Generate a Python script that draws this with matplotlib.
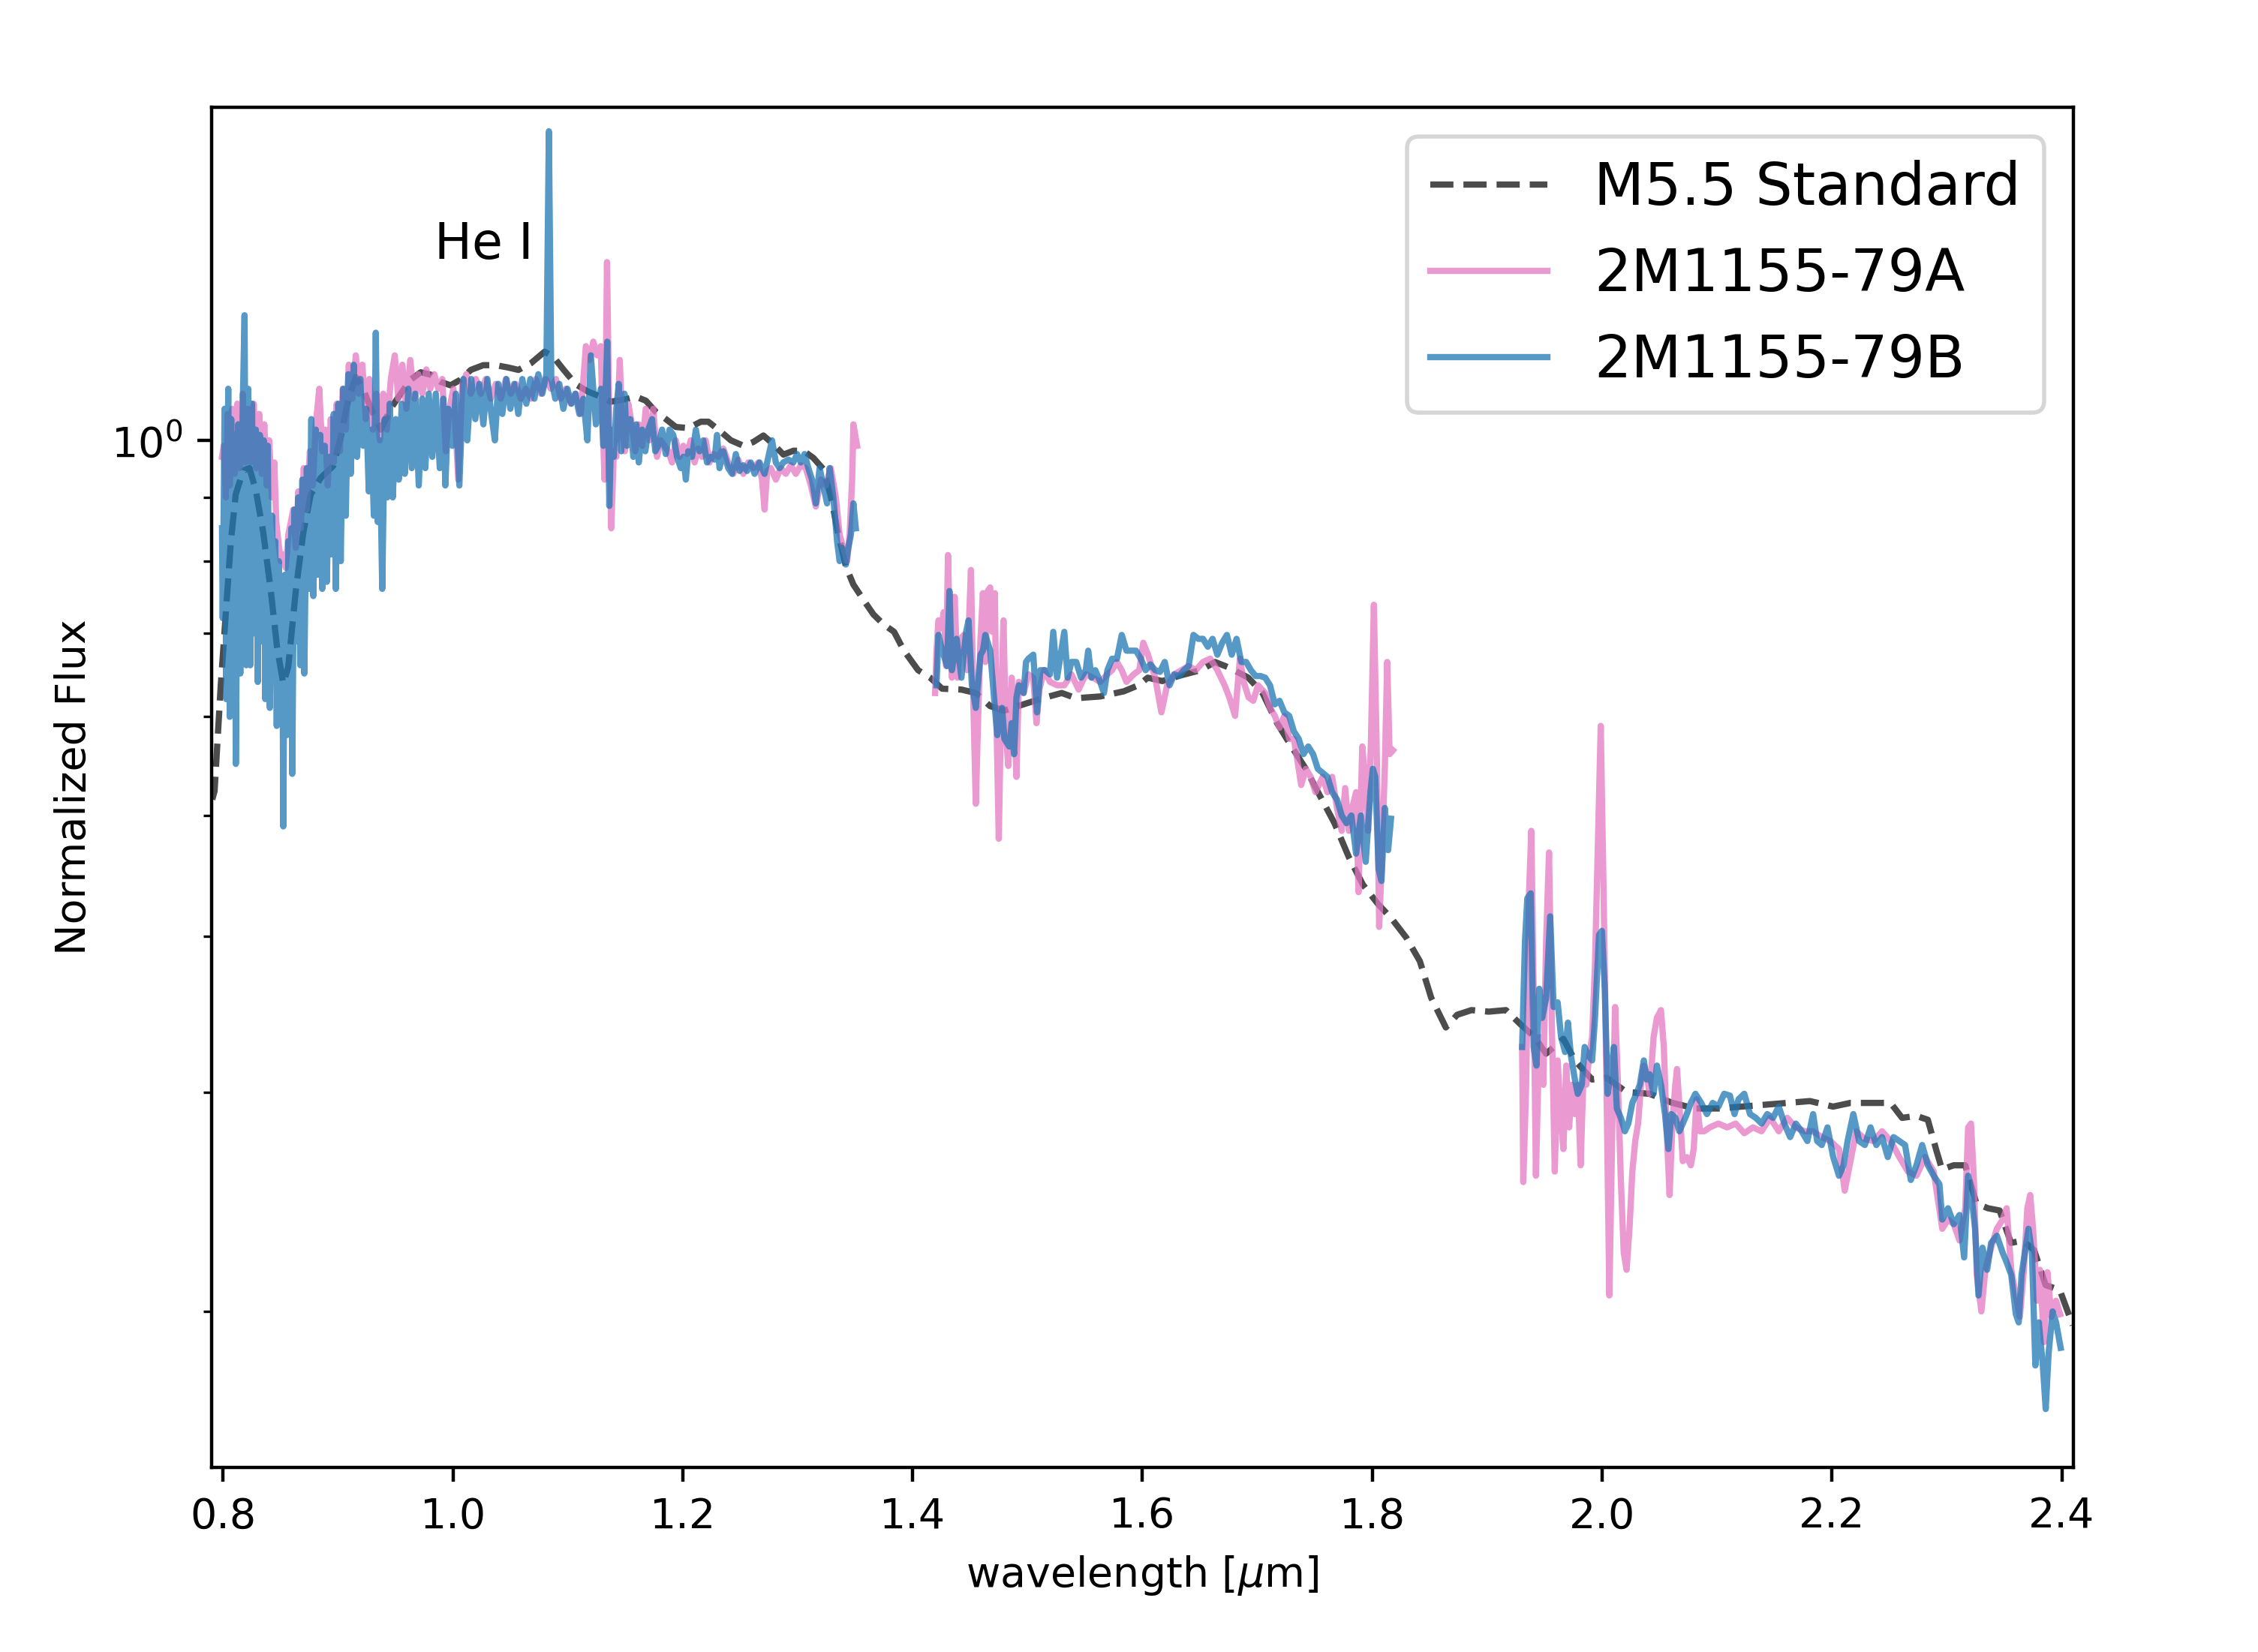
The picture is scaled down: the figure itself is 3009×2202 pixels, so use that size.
import matplotlib
matplotlib.use('Agg')
import matplotlib.pyplot as plt

# M5.5 standard template
std_wave = [0.7906, 0.7926, 0.798, 0.8023, 0.8067, 0.811, 0.8176, 0.823, 0.8285, 0.835,
            0.8415, 0.847, 0.8524, 0.8567, 0.8633, 0.8698, 0.8763, 0.885, 0.8959, 0.9024,
            0.909, 0.9155, 0.922, 0.9285, 0.9373, 0.946, 0.9546, 0.9634, 0.972, 0.9807,
            0.9895, 0.998, 1.0069, 1.0156, 1.0264, 1.0373, 1.0482, 1.057, 1.0678, 1.0798,
            1.0874, 1.0961, 1.107, 1.1178, 1.1287, 1.1374, 1.1505, 1.1592, 1.1679, 1.1766,
            1.1853, 1.194, 1.2049, 1.2157, 1.2223, 1.2332, 1.2419, 1.2528, 1.2614, 1.2702,
            1.2788, 1.2876, 1.2963, 1.305, 1.3137, 1.3224, 1.3289, 1.3354, 1.342, 1.3485,
            1.3593, 1.3659, 1.3746, 1.3839, 1.3925, 1.4048, 1.4153, 1.4257, 1.4424, 1.455,
            1.4675, 1.4799, 1.4965, 1.5132, 1.5298, 1.5423, 1.5632, 1.5839, 1.5965, 1.6046,
            1.6173, 1.634, 1.6506, 1.6631, 1.6756, 1.6921, 1.7045, 1.7172, 1.7297, 1.7422,
            1.7547, 1.7671, 1.7796, 1.7919, 1.8046, 1.8171, 1.8296, 1.8414, 1.8513, 1.864,
            1.8739, 1.8864, 1.9014, 1.9163, 1.9289, 1.9413, 1.9512, 1.9663, 1.9763, 1.9913,
            2.0038, 2.0212, 2.0413, 2.0612, 2.0811, 2.1012, 2.1212, 2.1411, 2.1611, 2.1809,
            2.201, 2.216, 2.231, 2.251, 2.261, 2.2735, 2.2834, 2.291, 2.2958, 2.3059,
            2.316, 2.3258, 2.3359, 2.3459, 2.3558, 2.3659, 2.3759, 2.3859, 2.3983, 2.4095]
std_flux = [0.515, 0.523, 0.636, 0.725, 0.828, 0.905, 0.946, 0.95, 0.912, 0.843,
            0.758, 0.682, 0.638, 0.658, 0.758, 0.843, 0.905, 0.933, 0.954, 1.006,
            1.08, 1.124, 1.099, 1.061, 1.02, 1.061, 1.09, 1.119, 1.134, 1.129,
            1.114, 1.107, 1.119, 1.139, 1.149, 1.149, 1.144, 1.139, 1.153, 1.178,
            1.167, 1.14, 1.109, 1.094, 1.084, 1.074, 1.079, 1.084, 1.076, 1.054,
            1.04, 1.025, 1.023, 1.035, 1.035, 1.016, 1.0, 0.99, 0.997, 1.009,
            0.993, 0.974, 0.981, 0.981, 0.968, 0.948, 0.901, 0.841, 0.792, 0.766,
            0.74, 0.725, 0.712, 0.702, 0.678, 0.654, 0.645, 0.632, 0.631, 0.627,
            0.612, 0.607, 0.614, 0.621, 0.627, 0.621, 0.623, 0.629, 0.636, 0.645,
            0.641, 0.648, 0.654, 0.664, 0.657, 0.645, 0.627, 0.593, 0.568, 0.545,
            0.518, 0.493, 0.463, 0.44, 0.425, 0.413, 0.399, 0.382, 0.357, 0.338,
            0.346, 0.349, 0.348, 0.349, 0.34, 0.332, 0.322, 0.331, 0.318, 0.307,
            0.308, 0.3, 0.299, 0.294, 0.291, 0.291, 0.292, 0.293, 0.294, 0.295,
            0.292, 0.294, 0.294, 0.294, 0.286, 0.287, 0.285, 0.269, 0.26, 0.262,
            0.262, 0.244, 0.242, 0.241, 0.227, 0.228, 0.224, 0.21, 0.208, 0.195]

# 2M1155-79A, three bands
a_wave_yj = [0.7991, 0.8006, 0.8024, 0.8041, 0.8058, 0.808, 0.8102, 0.8124, 0.8145, 0.8171,
             0.8193, 0.8219, 0.8241, 0.8267, 0.8289, 0.8315, 0.8337, 0.8359, 0.838, 0.8402,
             0.8424, 0.8446, 0.8463, 0.8481, 0.8502, 0.8524, 0.8546, 0.8568, 0.859, 0.8611,
             0.8633, 0.8655, 0.8676, 0.8702, 0.8729, 0.8755, 0.8781, 0.8807, 0.8837, 0.8863,
             0.8889, 0.8911, 0.8937, 0.8963, 0.8989, 0.9016, 0.9042, 0.9068, 0.9094, 0.9125,
             0.9155, 0.9181, 0.9212, 0.9242, 0.9273, 0.9303, 0.9333, 0.9364, 0.9394, 0.9425,
             0.946, 0.9494, 0.9525, 0.956, 0.9595, 0.9629, 0.9664, 0.9699, 0.9734, 0.9769,
             0.9803, 0.9838, 0.9873, 0.9908, 0.9938, 0.9969, 1.0004, 1.0047, 1.0082, 1.0117,
             1.0156, 1.02, 1.0243, 1.0286, 1.033, 1.0374, 1.0417, 1.0461, 1.0504, 1.0547,
             1.0591, 1.0635, 1.0678, 1.0722, 1.0765, 1.0809, 1.0852, 1.0896, 1.0939, 1.0983,
             1.1026, 1.107, 1.1113, 1.1157, 1.119, 1.1222, 1.1255, 1.1287, 1.13, 1.132,
             1.1341, 1.1363, 1.1378, 1.14, 1.1422, 1.1452, 1.1474, 1.1496, 1.1526, 1.1557,
             1.1587, 1.1617, 1.1648, 1.1678, 1.1711, 1.1744, 1.1776, 1.1809, 1.1842, 1.1874,
             1.1907, 1.194, 1.1972, 1.2005, 1.2037, 1.207, 1.2103, 1.2135, 1.2168, 1.22,
             1.2233, 1.2266, 1.2309, 1.2353, 1.2396, 1.244, 1.2483, 1.2527, 1.257, 1.2614,
             1.2658, 1.269, 1.2712, 1.2734, 1.2766, 1.281, 1.2853, 1.2897, 1.294, 1.2984,
             1.3027, 1.3071, 1.3115, 1.3158, 1.3202, 1.3245, 1.3288, 1.3332, 1.3365, 1.3397,
             1.343, 1.3452, 1.3474, 1.3485, 1.3517]
a_flux_yj = [0.97, 0.99, 0.9, 1.05, 0.92, 1.06, 0.94, 1.07, 0.95, 1.09,
             0.96, 1.06, 0.96, 1.07, 0.95, 1.05, 0.94, 1.03, 0.92, 1.0,
             0.9, 0.96, 0.86, 0.83, 0.8, 0.81, 0.79, 0.84, 0.86, 0.88,
             0.82, 0.91, 0.85, 0.95, 0.88, 0.98, 0.92, 1.03, 1.1, 0.98,
             1.02, 0.92, 1.04, 0.96, 1.07, 0.98, 1.1, 1.02, 1.15, 1.08,
             1.17, 1.09, 1.15, 1.04, 1.12, 1.02, 1.09, 1.0, 1.09, 1.02,
             1.12, 1.17, 1.08, 1.15, 1.06, 1.16, 1.08, 1.13, 1.09, 1.14,
             1.1, 1.13, 1.1, 1.12, 0.98, 1.06, 1.1, 0.93, 1.11, 1.13,
             1.09, 1.12, 1.09, 1.12, 1.08, 1.11, 1.08, 1.12, 1.09, 1.11,
             1.08, 1.1, 1.08, 1.12, 1.09, 1.12, 1.1, 1.12, 1.08, 1.1,
             1.07, 1.09, 1.05, 1.19, 1.16, 1.2, 1.17, 1.19, 1.05, 0.93,
             1.39, 1.0, 0.85, 0.98, 0.97, 1.16, 1.02, 0.98, 1.07, 1.03,
             0.98, 1.03, 0.99, 1.06, 1.0, 1.06, 0.97, 1.0, 0.99, 0.98,
             0.96, 1.0, 0.97, 0.99, 0.975, 1.0, 0.96, 0.985, 0.97, 1.0,
             0.96, 0.975, 0.97, 0.985, 0.96, 0.94, 0.965, 0.94, 0.96, 0.95,
             0.96, 0.93, 0.88, 0.945, 0.95, 0.93, 0.95, 0.94, 0.955, 0.94,
             0.955, 0.95, 0.92, 0.885, 0.93, 0.92, 0.95, 0.9, 0.84, 0.82,
             0.8, 0.84, 0.93, 1.03, 0.99]

a_wave_h = [1.4196, 1.4208, 1.4225, 1.425, 1.4271, 1.4292, 1.4308, 1.4325, 1.4342, 1.4366,
            1.4391, 1.4416, 1.4446, 1.4475, 1.4508, 1.4529, 1.455, 1.4571, 1.4591, 1.4612,
            1.4633, 1.4654, 1.4675, 1.4695, 1.4716, 1.4729, 1.475, 1.4771, 1.4791, 1.4812,
            1.4833, 1.4862, 1.4883, 1.4904, 1.4924, 1.4966, 1.5008, 1.505, 1.5078, 1.5103,
            1.5145, 1.5195, 1.5257, 1.532, 1.5382, 1.5445, 1.5507, 1.557, 1.5632, 1.5695,
            1.5736, 1.5778, 1.582, 1.5861, 1.5924, 1.5973, 1.6007, 1.6048, 1.6111, 1.6165,
            1.6215, 1.6277, 1.634, 1.6402, 1.6465, 1.6527, 1.659, 1.6652, 1.6715, 1.6756,
            1.6806, 1.6848, 1.6881, 1.6923, 1.6964, 1.7006, 1.7068, 1.711, 1.7152, 1.7193,
            1.7235, 1.7277, 1.7318, 1.736, 1.7381, 1.7422, 1.7464, 1.7506, 1.7568, 1.761,
            1.7651, 1.7693, 1.7734, 1.7764, 1.7797, 1.7826, 1.7859, 1.788, 1.7913, 1.7943,
            1.7964, 1.7989, 1.8014, 1.8039, 1.806, 1.808, 1.8109, 1.813, 1.8151, 1.818]
a_flux_h = [0.627, 0.678, 0.717, 0.707, 0.728, 0.659, 0.809, 0.693, 0.645, 0.749,
            0.645, 0.693, 0.698, 0.654, 0.787, 0.614, 0.511, 0.601, 0.693, 0.754,
            0.664, 0.757, 0.762, 0.702, 0.754, 0.601, 0.479, 0.618, 0.717, 0.58,
            0.548, 0.645, 0.601, 0.537, 0.64, 0.627, 0.649, 0.645, 0.593, 0.631,
            0.654, 0.64, 0.636, 0.636, 0.649, 0.631, 0.649, 0.645, 0.64, 0.649,
            0.654, 0.664, 0.654, 0.64, 0.649, 0.654, 0.688, 0.673, 0.645, 0.605,
            0.636, 0.649, 0.654, 0.659, 0.654, 0.664, 0.668, 0.654, 0.636, 0.622,
            0.601, 0.668, 0.64, 0.622, 0.618, 0.636, 0.627, 0.61, 0.601, 0.588,
            0.601, 0.576, 0.576, 0.545, 0.529, 0.545, 0.537, 0.522, 0.537, 0.522,
            0.537, 0.507, 0.486, 0.526, 0.486, 0.507, 0.522, 0.434, 0.568, 0.529,
            0.486, 0.576, 0.738, 0.56, 0.407, 0.453, 0.545, 0.664, 0.56, 0.564]

a_wave_k = [1.9304, 1.9314, 1.9339, 1.9364, 1.9384, 1.9404, 1.9424, 1.9453, 1.9488, 1.9513,
            1.9538, 1.9563, 1.9588, 1.9613, 1.9638, 1.9663, 1.9688, 1.9713, 1.9738, 1.9763,
            1.9788, 1.9813, 1.9838, 1.9863, 1.9888, 1.9913, 1.9938, 1.9963, 1.9988, 2.0013,
            2.0038, 2.0063, 2.0088, 2.0113, 2.0138, 2.0163, 2.0188, 2.0213, 2.0238, 2.0263,
            2.0288, 2.0313, 2.0338, 2.0363, 2.0388, 2.0413, 2.0448, 2.0477, 2.0512, 2.0537,
            2.0562, 2.0587, 2.0612, 2.0637, 2.0652, 2.0677, 2.0702, 2.0737, 2.0772, 2.0797,
            2.0822, 2.0852, 2.0887, 2.0937, 2.1012, 2.1087, 2.1162, 2.1237, 2.1312, 2.1387,
            2.1462, 2.1537, 2.1611, 2.1686, 2.1761, 2.1836, 2.1911, 2.1986, 2.2061, 2.2111,
            2.2161, 2.2211, 2.2286, 2.2361, 2.2436, 2.2511, 2.2586, 2.2661, 2.2735, 2.281,
            2.2885, 2.296, 2.301, 2.306, 2.311, 2.316, 2.3185, 2.321, 2.3235, 2.326,
            2.33, 2.3335, 2.3385, 2.3435, 2.3485, 2.352, 2.356, 2.36, 2.3635, 2.367,
            2.37, 2.3725, 2.375, 2.3785, 2.381, 2.3845, 2.3875, 2.391, 2.395, 2.3985]
a_flux_k = [0.326, 0.254, 0.304, 0.433, 0.486, 0.363, 0.257, 0.332, 0.304, 0.397,
            0.467, 0.338, 0.259, 0.318, 0.288, 0.27, 0.315, 0.281, 0.304, 0.288,
            0.304, 0.262, 0.31, 0.304, 0.321, 0.332, 0.38, 0.473, 0.59, 0.433,
            0.304, 0.206, 0.279, 0.351, 0.304, 0.255, 0.223, 0.216, 0.233, 0.259,
            0.274, 0.283, 0.304, 0.315, 0.31, 0.299, 0.332, 0.344, 0.349, 0.326,
            0.279, 0.248, 0.283, 0.304, 0.313, 0.288, 0.264, 0.266, 0.262, 0.27,
            0.296, 0.279, 0.279, 0.281, 0.283, 0.281, 0.283, 0.278, 0.281, 0.279,
            0.286, 0.279, 0.286, 0.281, 0.279, 0.279, 0.276, 0.274, 0.27, 0.25,
            0.264, 0.279, 0.275, 0.274, 0.279, 0.274, 0.266, 0.259, 0.257, 0.266,
            0.259, 0.233, 0.237, 0.235, 0.228, 0.242, 0.281, 0.283, 0.255, 0.214,
            0.2, 0.216, 0.225, 0.233, 0.237, 0.242, 0.216, 0.206, 0.198, 0.216,
            0.242, 0.248, 0.233, 0.204, 0.216, 0.189, 0.215, 0.198, 0.204, 0.199]

# 2M1155-79B, three bands
b_wave_yj = [0.7991, 0.7997, 0.8013, 0.8028, 0.8045, 0.8058, 0.8071, 0.8089, 0.8102, 0.8111,
             0.8132, 0.815, 0.8171, 0.8187, 0.8202, 0.8219, 0.8237, 0.8252, 0.8267, 0.8285,
             0.8302, 0.832, 0.8339, 0.8354, 0.8367, 0.8389, 0.8407, 0.8426, 0.8441, 0.8454,
             0.8467, 0.8485, 0.8502, 0.8515, 0.8524, 0.8537, 0.8554, 0.8568, 0.8581, 0.8594,
             0.8602, 0.862, 0.8637, 0.8655, 0.8672, 0.869, 0.8707, 0.8729, 0.8746, 0.8768,
             0.8785, 0.8807, 0.8824, 0.8846, 0.8863, 0.8885, 0.8903, 0.8924, 0.8942, 0.8963,
             0.8981, 0.9003, 0.9024, 0.9046, 0.9068, 0.909, 0.9111, 0.9137, 0.9166, 0.9194,
             0.922, 0.9246, 0.9268, 0.929, 0.9312, 0.9329, 0.9346, 0.9364, 0.9385, 0.9407,
             0.9429, 0.945, 0.9477, 0.9503, 0.9529, 0.9555, 0.9581, 0.9612, 0.9642, 0.9673,
             0.9703, 0.9734, 0.976, 0.979, 0.9821, 0.9851, 0.9886, 0.9917, 0.9934, 0.996,
             0.9995, 1.0025, 1.0056, 1.0091, 1.0125, 1.016, 1.0195, 1.023, 1.0265, 1.03,
             1.0334, 1.0365, 1.0395, 1.043, 1.0465, 1.05, 1.0534, 1.0569, 1.0604, 1.0639,
             1.0674, 1.0709, 1.0743, 1.0778, 1.0813, 1.0835, 1.0856, 1.0891, 1.0926, 1.0961,
             1.0996, 1.1031, 1.1065, 1.11, 1.1135, 1.117, 1.12, 1.1244, 1.1287, 1.1309,
             1.133, 1.1343, 1.1361, 1.1378, 1.14, 1.1422, 1.1443, 1.1465, 1.1493, 1.1515,
             1.1543, 1.157, 1.1596, 1.1617, 1.1646, 1.1674, 1.17, 1.1733, 1.1761, 1.1787,
             1.182, 1.1852, 1.1885, 1.1918, 1.195, 1.1983, 1.2005, 1.2027, 1.2048, 1.2081,
             1.2114, 1.2146, 1.2179, 1.2211, 1.2244, 1.2277, 1.2298, 1.232, 1.2353, 1.2396,
             1.2429, 1.2462, 1.2494, 1.2527, 1.256, 1.2592, 1.2625, 1.2668, 1.2712, 1.2745,
             1.2777, 1.281, 1.2843, 1.2875, 1.2919, 1.2962, 1.2995, 1.3027, 1.306, 1.3093,
             1.3125, 1.3158, 1.3191, 1.3223, 1.3256, 1.3278, 1.331, 1.3343, 1.3365, 1.3386,
             1.3419, 1.3441, 1.3463, 1.3485, 1.3506]
b_flux_yj = [0.85, 0.72, 1.06, 0.62, 1.1, 0.6, 1.04, 0.67, 1.01, 0.55,
             1.03, 0.65, 1.06, 1.26, 0.66, 1.1, 0.66, 1.07, 0.7, 1.02,
             0.64, 1.01, 0.69, 1.0, 0.62, 0.99, 0.61, 0.87, 0.7, 0.83,
             0.59, 0.8, 0.64, 0.77, 0.49, 0.78, 0.58, 0.83, 0.61, 0.85,
             0.54, 0.88, 0.69, 0.9, 0.66, 0.93, 0.65, 0.95, 0.76, 1.04,
             0.75, 1.02, 0.78, 1.01, 0.76, 0.99, 0.77, 0.97, 0.81, 1.05,
             0.76, 1.07, 0.8, 1.1, 0.87, 1.13, 0.94, 1.15, 0.97, 1.12,
             0.99, 1.06, 0.91, 1.02, 0.87, 1.22, 0.86, 1.0, 0.76, 1.04,
             0.9, 1.07, 0.9, 1.04, 0.93, 1.07, 0.94, 1.1, 0.95, 1.09,
             0.92, 1.08, 0.95, 1.09, 0.97, 1.09, 0.95, 1.08, 0.92, 1.06,
             0.99, 1.09, 0.92, 1.12, 1.0, 1.12, 1.04, 1.11, 1.03, 1.12,
             1.05, 1.0, 1.11, 1.05, 1.12, 1.06, 1.11, 1.05, 1.12, 1.07,
             1.12, 1.08, 1.13, 1.09, 1.13, 1.77, 1.12, 1.08, 1.11, 1.06,
             1.1, 1.07, 1.09, 1.05, 1.08, 1.0, 1.17, 1.03, 1.1, 0.99,
             1.1, 1.2, 0.886, 1.02, 0.97, 1.06, 1.11, 0.98, 1.09, 0.99,
             1.04, 0.97, 1.03, 0.96, 1.02, 0.98, 1.02, 1.04, 0.98, 0.99,
             1.02, 0.975, 1.02, 1.01, 0.97, 0.95, 0.97, 0.93, 0.98, 0.97,
             1.02, 0.98, 1.0, 0.96, 0.97, 0.965, 1.01, 0.95, 0.98, 0.95,
             0.94, 0.975, 0.945, 0.955, 0.945, 0.96, 0.94, 0.96, 0.94, 0.97,
             1.0, 0.96, 0.95, 0.96, 0.965, 0.96, 0.975, 0.96, 0.975, 0.95,
             0.93, 0.89, 0.95, 0.92, 0.89, 0.95, 0.9, 0.83, 0.8, 0.82,
             0.795, 0.82, 0.84, 0.89, 0.85]

b_wave_h = [1.4208, 1.4225, 1.4258, 1.43, 1.4321, 1.4342, 1.4383, 1.4425, 1.4466, 1.4487,
            1.4516, 1.455, 1.4591, 1.4612, 1.4633, 1.4675, 1.4716, 1.4737, 1.4779, 1.4799,
            1.4841, 1.4862, 1.4883, 1.4904, 1.4924, 1.4966, 1.4987, 1.5008, 1.505, 1.5083,
            1.5112, 1.5153, 1.5195, 1.5224, 1.5257, 1.532, 1.5349, 1.5382, 1.5424, 1.5466,
            1.5507, 1.5528, 1.5557, 1.559, 1.5632, 1.5665, 1.5695, 1.5736, 1.5778, 1.582,
            1.5861, 1.5903, 1.5944, 1.5986, 1.6028, 1.6069, 1.6111, 1.6153, 1.6194, 1.6236,
            1.6277, 1.6319, 1.6361, 1.6402, 1.6444, 1.6486, 1.6527, 1.6569, 1.661, 1.6652,
            1.6694, 1.6735, 1.6777, 1.6819, 1.686, 1.6902, 1.6944, 1.6985, 1.7027, 1.7068,
            1.711, 1.7152, 1.7193, 1.7235, 1.7277, 1.7318, 1.736, 1.7401, 1.7443, 1.7485,
            1.7526, 1.7568, 1.761, 1.7651, 1.7693, 1.7734, 1.7776, 1.7818, 1.7859, 1.7901,
            1.7943, 1.7984, 1.8005, 1.8026, 1.8055, 1.808, 1.8109, 1.8138, 1.8163]
b_flux_h = [0.636, 0.698, 0.678, 0.659, 0.757, 0.654, 0.693, 0.645, 0.702, 0.717,
            0.636, 0.61, 0.673, 0.678, 0.698, 0.678, 0.61, 0.58, 0.61, 0.576,
            0.568, 0.593, 0.56, 0.622, 0.636, 0.627, 0.664, 0.668, 0.673, 0.605,
            0.654, 0.654, 0.649, 0.702, 0.645, 0.702, 0.645, 0.664, 0.664, 0.645,
            0.654, 0.678, 0.645, 0.654, 0.64, 0.627, 0.654, 0.668, 0.668, 0.698,
            0.678, 0.678, 0.678, 0.668, 0.654, 0.661, 0.654, 0.652, 0.664, 0.636,
            0.649, 0.647, 0.654, 0.659, 0.698, 0.693, 0.693, 0.683, 0.693, 0.673,
            0.688, 0.698, 0.673, 0.693, 0.664, 0.664, 0.654, 0.647, 0.647, 0.645,
            0.636, 0.614, 0.618, 0.605, 0.601, 0.584, 0.576, 0.56, 0.568, 0.56,
            0.545, 0.541, 0.537, 0.522, 0.515, 0.5, 0.493, 0.5, 0.466, 0.5,
            0.459, 0.522, 0.545, 0.537, 0.453, 0.443, 0.507, 0.469, 0.497]

b_wave_k = [1.9304, 1.9329, 1.9349, 1.9379, 1.9404, 1.9429, 1.9453, 1.9478, 1.9513, 1.9548,
            1.9578, 1.9613, 1.9643, 1.9678, 1.9703, 1.9728, 1.9763, 1.9788, 1.9823, 1.9848,
            1.9878, 1.9913, 1.9938, 1.9973, 1.9998, 2.0023, 2.0048, 2.0073, 2.0103, 2.0128,
            2.0163, 2.0198, 2.0228, 2.0263, 2.0298, 2.0328, 2.0363, 2.0388, 2.0413, 2.0448,
            2.0477, 2.0512, 2.0547, 2.0577, 2.0602, 2.0637, 2.0672, 2.0702, 2.0737, 2.0772,
            2.0812, 2.0862, 2.0912, 2.0962, 2.1012, 2.1062, 2.1112, 2.1152, 2.1187, 2.1237,
            2.1287, 2.1337, 2.1387, 2.1437, 2.1487, 2.1537, 2.1586, 2.1636, 2.1686, 2.1736,
            2.1786, 2.1836, 2.1871, 2.1911, 2.1961, 2.2011, 2.2061, 2.2101, 2.2136, 2.2186,
            2.2236, 2.2286, 2.2336, 2.2386, 2.2436, 2.2486, 2.2536, 2.2586, 2.2636, 2.2686,
            2.2735, 2.2785, 2.2835, 2.2885, 2.2935, 2.296, 2.301, 2.306, 2.311, 2.315,
            2.3185, 2.321, 2.3245, 2.3275, 2.331, 2.335, 2.3385, 2.3435, 2.3485, 2.352,
            2.356, 2.36, 2.3625, 2.365, 2.3685, 2.371, 2.374, 2.377, 2.38, 2.3835,
            2.386, 2.3885, 2.392, 2.395, 2.399]
b_flux_k = [0.326, 0.397, 0.429, 0.433, 0.326, 0.315, 0.363, 0.344, 0.357, 0.415,
            0.351, 0.354, 0.332, 0.323, 0.341, 0.321, 0.307, 0.299, 0.304, 0.326,
            0.321, 0.318, 0.344, 0.401, 0.404, 0.363, 0.299, 0.31, 0.326, 0.291,
            0.286, 0.279, 0.283, 0.294, 0.299, 0.304, 0.318, 0.307, 0.31, 0.299,
            0.315, 0.304, 0.288, 0.27, 0.288, 0.286, 0.279, 0.283, 0.288, 0.294,
            0.299, 0.294, 0.288, 0.294, 0.292, 0.299, 0.298, 0.288, 0.296, 0.299,
            0.288, 0.286, 0.283, 0.288, 0.286, 0.292, 0.283, 0.276, 0.283, 0.279,
            0.274, 0.288, 0.274, 0.272, 0.281, 0.266, 0.257, 0.262, 0.274, 0.288,
            0.274, 0.272, 0.281, 0.272, 0.276, 0.266, 0.276, 0.274, 0.272, 0.255,
            0.262, 0.272, 0.262, 0.257, 0.253, 0.237, 0.242, 0.235, 0.239, 0.221,
            0.257, 0.25, 0.233, 0.206, 0.225, 0.216, 0.227, 0.23, 0.223, 0.219,
            0.214, 0.199, 0.196, 0.214, 0.225, 0.233, 0.223, 0.181, 0.196, 0.181,
            0.167, 0.185, 0.2, 0.196, 0.187]

fig = plt.figure(figsize=(3009 / 400, 2202 / 400), dpi=400)
ax = fig.add_axes([0.0937, 0.1119, 0.8245, 0.8231])

ax.plot(std_wave, std_flux, '--', color='k', alpha=0.7, lw=1.5, label='M5.5 Standard')

a_segments = [(a_wave_yj, a_flux_yj), (a_wave_h, a_flux_h), (a_wave_k, a_flux_k)]
for i, (w, f) in enumerate(a_segments):
    ax.plot(w, f, color='tab:pink', alpha=0.75, lw=1.5,
            label='2M1155-79A' if i == 0 else None)

b_segments = [(b_wave_yj, b_flux_yj), (b_wave_h, b_flux_h), (b_wave_k, b_flux_k)]
for i, (w, f) in enumerate(b_segments):
    ax.plot(w, f, color='tab:blue', alpha=0.75, lw=1.5,
            label='2M1155-79B' if i == 0 else None)

ax.text(0.984, 1.398, 'He I', fontsize=12)

ax.set_yscale('log')
ax.set_xlim(0.79, 2.41)
ax.set_ylim(0.15, 1.85)
ax.set_xlabel(r'wavelength [$\mu$m]')
ax.set_ylabel('Normalized Flux')
ax.legend(loc='upper right', fontsize=14)

fig.savefig('out.png', dpi=400)
